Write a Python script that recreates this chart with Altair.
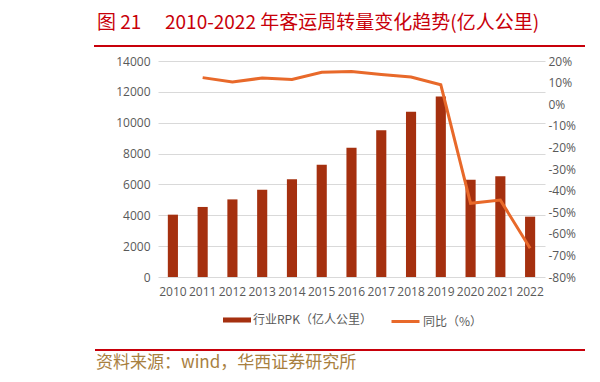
import altair as alt
import pandas as pd

# ---- data ----
years = [str(y) for y in range(2010, 2023)]
rpk = [4040, 4540, 5030, 5660, 6330, 7280, 8380, 9510, 10710, 11700, 6310, 6530, 3910]
yoy = [None, 12.3, 10.3, 12.1, 11.4, 14.8, 15.1, 13.7, 12.6, 9.0, -45.9, -44.4, -66.7]
left_ticks = list(range(0, 14001, 2000))
right_ticks = list(range(-80, 21, 10))

bar_label = "行业RPK（亿人公里）"
line_label = "同比（%）"
title_num = "图 21"
title_text = "2010-2022 年客运周转量变化趋势(亿人公里)"
source_text = "资料来源：wind，华西证券研究所"

BAR = "#A5300F"
LINE = "#E8692A"
RED = "#C8000A"
GRAY = "#595959"
GRID = "#D9D9D9"
SRC = "#A8803F"
NUM_FONT = "Open Sans"
CJK = "Noto Sans CJK SC"

df = pd.DataFrame({"year": years, "rpk": rpk, "yoy": yoy})
df["s1"] = bar_label
df["s2"] = line_label

x_enc = alt.X(
    "year:N",
    sort=years,
    scale=alt.Scale(paddingInner=0.66, paddingOuter=0.33),
    axis=alt.Axis(title=None, labelAngle=0, domain=False, ticks=False,
                  labelPadding=9, labelOverlap=False, labelFlush=False,
                  labelFont=NUM_FONT, labelFontSize=12, labelColor=GRAY),
)

bars = alt.Chart(df).mark_bar().encode(
    x=x_enc,
    y=alt.Y("rpk:Q", scale=alt.Scale(domain=[0, 14000], nice=False),
            axis=alt.Axis(title=None, values=left_ticks, format="d", grid=True, gridColor=GRID,
                          domain=False, ticks=False, labelPadding=8,
                          labelFont=NUM_FONT, labelFontSize=12, labelColor=GRAY)),
    color=alt.Color("s1:N", scale=alt.Scale(domain=[bar_label], range=[BAR]),
                    legend=alt.Legend(title=None, orient="none", legendX=65, legendY=245,
                                      symbolType="M-1,-0.18H1V0.18H-1Z", symbolSize=784,
                                      symbolStrokeWidth=0, labelOffset=2, padding=0,
                                      labelFont=CJK, labelFontSize=12, labelColor=GRAY)),
)

line = alt.Chart(df).mark_line(strokeWidth=3).encode(
    x=x_enc,
    y=alt.Y("yoy:Q", scale=alt.Scale(domain=[-80, 20], nice=False),
            axis=alt.Axis(title=None, orient="right", values=right_ticks, grid=False,
                          domain=False, ticks=False, labelPadding=3,
                          labelExpr="datum.value + '%'",
                          labelFont=NUM_FONT, labelFontSize=12, labelColor=GRAY)),
    stroke=alt.Stroke("s2:N", scale=alt.Scale(domain=[line_label], range=[LINE]),
                      legend=alt.Legend(title=None, orient="none", legendX=232, legendY=245,
                                        symbolType="stroke", symbolSize=784,
                                        symbolStrokeWidth=3, labelOffset=2, padding=0,
                                        labelFont=CJK, labelFontSize=12, labelColor=GRAY)),
)

one = pd.DataFrame({"n": [title_num], "t": [title_text], "s": [source_text]})

title_a = alt.Chart(one).mark_text(align="left", baseline="middle", font=CJK,
                                   fontSize=19, color=RED).encode(
    x=alt.value(-61), y=alt.value(-38), text="n:N")

title_b = alt.Chart(one).mark_text(align="left", baseline="middle", font=CJK,
                                   fontSize=19, color=RED).encode(
    x=alt.value(7), y=alt.value(-38), text="t:N")

top_rule = alt.Chart(one).mark_rule(color=RED, strokeWidth=2).encode(
    x=alt.value(-64), x2=alt.value(427), y=alt.value(-15))

bottom_rule = alt.Chart(one).mark_rule(color=RED, strokeWidth=2).encode(
    x=alt.value(-63), x2=alt.value(427), y=alt.value(289))

source = alt.Chart(one).mark_text(align="left", baseline="middle", font=CJK,
                                  fontSize=17, color=SRC).encode(
    x=alt.value(-62), y=alt.value(302), text="s:N")

chart = alt.layer(bars, line, title_a, title_b, top_rule, bottom_rule, source).resolve_scale(
    y="independent"
).properties(
    width=387, height=216,
    padding={"left": 150, "top": 53, "right": 47, "bottom": 97},
    autosize=alt.AutoSizeParams(type="none"),
).configure_view(stroke=None)

chart.save("out.html", embed_options={"renderer": "svg", "actions": False})
